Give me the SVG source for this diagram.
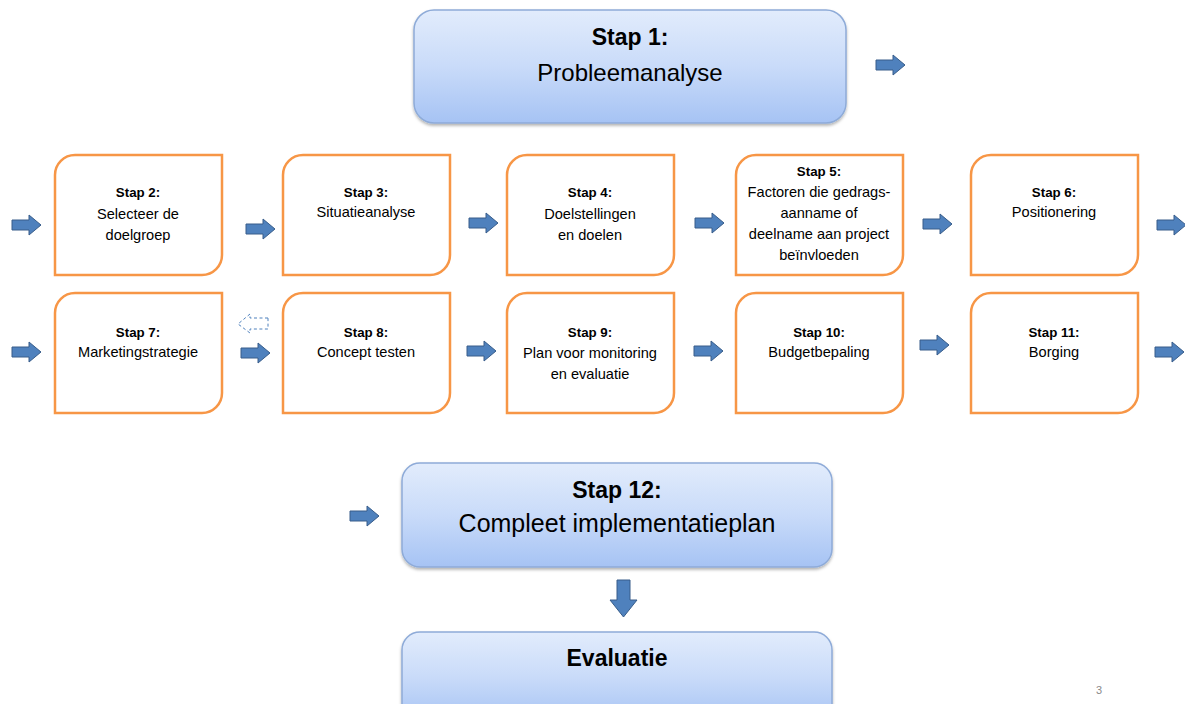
<svg xmlns="http://www.w3.org/2000/svg" width="1185" height="704" viewBox="0 0 1185 704">
<defs>
<linearGradient id="blue" x1="0" y1="0" x2="0" y2="1">
<stop offset="0" stop-color="#e2ecfc"/>
<stop offset="0.5" stop-color="#c9dbf9"/>
<stop offset="1" stop-color="#a6c3f4"/>
</linearGradient>
<filter id="sh" x="-5%" y="-5%" width="110%" height="115%">
<feDropShadow dx="0" dy="2" stdDeviation="1.5" flood-color="#000" flood-opacity="0.3"/>
</filter>
<path id="ar" d="M0,-5 H17 V-10 L29,0 L17,10 V5 H0 Z"/>
<path id="orng" d="M20,0 H167 V100 A20,20 0 0 1 147,120 H0 V20 A20,20 0 0 1 20,0 Z"/>
</defs>
<style>
.bb{fill:url(#blue);stroke:#8eabd8;stroke-width:1.5}
.ob{fill:#fff;stroke:#f79646;stroke-width:2.5}
.arr{fill:#4f81bd;stroke:#385d8a;stroke-width:1}
text{font-family:"Liberation Sans",Arial,sans-serif;fill:#000;text-anchor:middle}
.t{font-size:13.3px;font-weight:bold}
.s{font-size:14.6px}
.bt{font-size:23px;font-weight:bold}
.bs{font-size:24px}
.bs2{font-size:25px}
</style>
<rect width="1185" height="704" fill="#fff"/>

<g id="step1">
<rect class="bb" x="414" y="10" width="432" height="113" rx="20" filter="url(#sh)"/>
<text class="bt" x="630" y="45">Stap 1:</text>
<text class="bs" x="630" y="81">Probleemanalyse</text>
</g>

<g id="step2"><use href="#orng" class="ob" x="55" y="155"/>
<text class="t" x="138" y="197">Stap 2:</text><text class="s" x="138" y="219">Selecteer de</text><text class="s" x="138" y="240">doelgroep</text></g>
<g id="step3"><use href="#orng" class="ob" x="283" y="155"/>
<text class="t" x="366" y="197">Stap 3:</text><text class="s" x="366" y="217">Situatieanalyse</text></g>
<g id="step4"><use href="#orng" class="ob" x="507" y="155"/>
<text class="t" x="590" y="197">Stap 4:</text><text class="s" x="590" y="219">Doelstellingen</text><text class="s" x="590" y="240">en doelen</text></g>
<g id="step5"><use href="#orng" class="ob" x="736" y="155"/>
<text class="t" x="819" y="176">Stap 5:</text><text class="s" x="819" y="197">Factoren die gedrags-</text><text class="s" x="819" y="218">aanname of</text><text class="s" x="819" y="239">deelname aan project</text><text class="s" x="819" y="260">beïnvloeden</text></g>
<g id="step6"><use href="#orng" class="ob" x="971" y="155"/>
<text class="t" x="1054" y="197">Stap 6:</text><text class="s" x="1054" y="217">Positionering</text></g>

<g id="step7"><use href="#orng" class="ob" x="55" y="293"/>
<text class="t" x="138" y="337">Stap 7:</text><text class="s" x="138" y="357">Marketingstrategie</text></g>
<g id="step8"><use href="#orng" class="ob" x="283" y="293"/>
<text class="t" x="366" y="337">Stap 8:</text><text class="s" x="366" y="357">Concept testen</text></g>
<g id="step9"><use href="#orng" class="ob" x="507" y="293"/>
<text class="t" x="590" y="337">Stap 9:</text><text class="s" x="590" y="358">Plan voor monitoring</text><text class="s" x="590" y="379">en evaluatie</text></g>
<g id="step10"><use href="#orng" class="ob" x="736" y="293"/>
<text class="t" x="819" y="337">Stap 10:</text><text class="s" x="819" y="357">Budgetbepaling</text></g>
<g id="step11"><use href="#orng" class="ob" x="971" y="293"/>
<text class="t" x="1054" y="337">Stap 11:</text><text class="s" x="1054" y="357">Borging</text></g>

<g id="step12">
<rect class="bb" x="402" y="463" width="430" height="104" rx="18" filter="url(#sh)"/>
<text class="bt" x="617" y="498">Stap 12:</text>
<text class="bs2" x="617" y="532">Compleet implementatieplan</text>
</g>
<g id="evaluatie">
<rect class="bb" x="402" y="632" width="430" height="90" rx="18" filter="url(#sh)"/>
<text class="bt" x="617" y="666">Evaluatie</text>
</g>

<g id="connectors">
<use href="#ar" class="arr" x="876" y="65"/>
<use href="#ar" class="arr" x="12" y="225"/>
<use href="#ar" class="arr" x="246" y="229"/>
<use href="#ar" class="arr" x="469" y="223"/>
<use href="#ar" class="arr" x="695" y="223"/>
<use href="#ar" class="arr" x="923" y="224"/>
<use href="#ar" class="arr" x="1157" y="225"/>
<use href="#ar" class="arr" x="12" y="352"/>
<use href="#ar" class="arr" x="241" y="353"/>
<use href="#ar" class="arr" x="467" y="351"/>
<use href="#ar" class="arr" x="694" y="351"/>
<use href="#ar" class="arr" x="920" y="345"/>
<use href="#ar" class="arr" x="1155" y="352"/>
<use href="#ar" class="arr" x="350" y="516"/>
<path class="arr" d="M617,580 H630 V600 H637 L623.5,617 L610,600 H617 Z"/>
<path d="M268,318 H250 V314 L238,324 L250,333 V329 H268 Z" fill="#fff" stroke="#4f81bd" stroke-width="1" stroke-dasharray="3,2.5"/>
</g>
<text x="1099" y="694" style="font-size:11px;fill:#8a8a8a">3</text>
</svg>
